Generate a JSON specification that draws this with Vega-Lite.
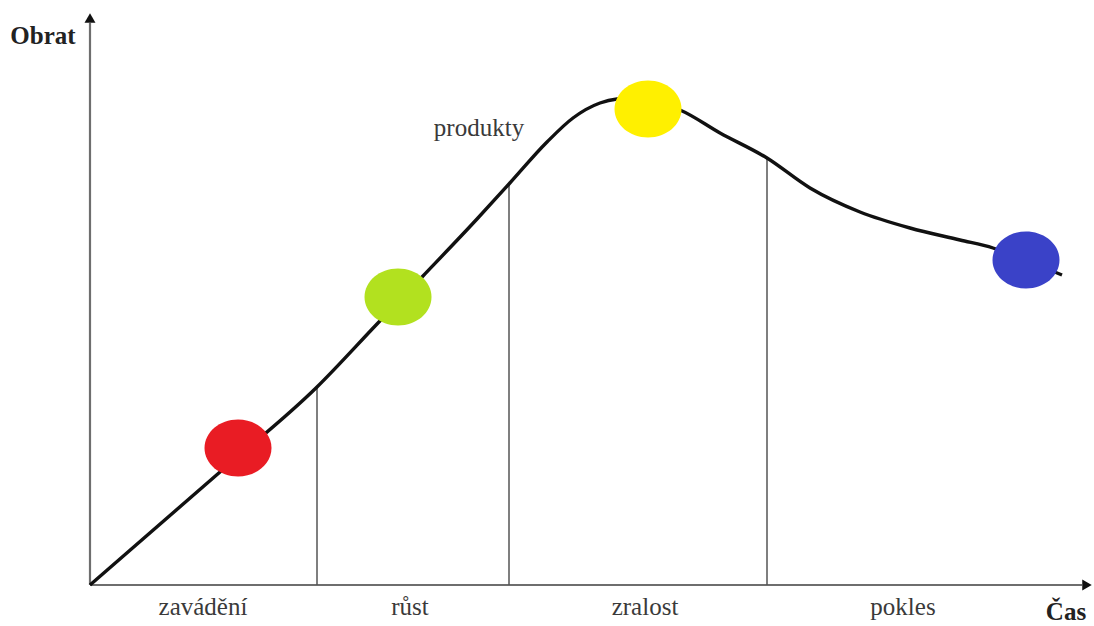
{
  "$schema": "https://vega.github.io/schema/vega-lite/v6.json",
  "width": 1094,
  "height": 626,
  "autosize": "none",
  "padding": 0,
  "background": "white",
  "config": {"view": {"stroke": null}},
  "datasets": {
    "curve": [
      {"t": 0, "v": 0}, {"t": 130, "v": 113}, {"t": 227, "v": 198}, {"t": 287, "v": 261},
      {"t": 333, "v": 309}, {"t": 387, "v": 366}, {"t": 419, "v": 401}, {"t": 457, "v": 443},
      {"t": 483, "v": 467}, {"t": 510, "v": 482}, {"t": 527, "v": 486}, {"t": 545, "v": 487},
      {"t": 565, "v": 483}, {"t": 590, "v": 475}, {"t": 630, "v": 452}, {"t": 677, "v": 427},
      {"t": 720, "v": 397}, {"t": 770, "v": 373}, {"t": 820, "v": 357}, {"t": 870, "v": 345},
      {"t": 903, "v": 337}, {"t": 935, "v": 325}, {"t": 972, "v": 310}
    ],
    "stages": [
      {"stage": "zavádění", "t": 148, "v": 137, "color": "red"},
      {"stage": "růst", "t": 308, "v": 288, "color": "green"},
      {"stage": "zralost", "t": 558, "v": 476, "color": "yellow"},
      {"stage": "pokles", "t": 936, "v": 325, "color": "blue"}
    ],
    "dividers": [
      {"t": 227, "v0": 0, "v1": 198},
      {"t": 419, "v0": 0, "v1": 401},
      {"t": 677, "v0": 0, "v1": 427}
    ],
    "phaseLabels": [
      {"label": "zavádění", "t": 113, "v": -22},
      {"label": "růst", "t": 320, "v": -22},
      {"label": "zralost", "t": 555, "v": -22},
      {"label": "pokles", "t": 813, "v": -22}
    ],
    "axes": [
      {"axis": "x", "t0": 0, "t1": 992, "v0": 0, "v1": 0},
      {"axis": "y", "t0": 0, "t1": 0, "v0": 0, "v1": 562}
    ],
    "arrows": [
      {"axis": "x", "t": 997, "v": 0, "dir": "right"},
      {"axis": "y", "t": 0, "v": 567, "dir": "up"}
    ],
    "titles": [
      {"label": "Obrat", "t": -47, "v": 549},
      {"label": "Čas", "t": 976, "v": -27}
    ],
    "notes": [
      {"label": "produkty", "t": 389, "v": 457}
    ]
  },
  "layer": [
    {
      "data": {"name": "axes"},
      "mark": {"type": "rule", "color": "#6e6e6e", "strokeWidth": 2.2},
      "encoding": {
        "x": {"field": "t0", "type": "quantitative", "scale": {"domain": [-90, 1004], "nice": false, "zero": false}, "axis": null},
        "x2": {"field": "t1"},
        "y": {"field": "v0", "type": "quantitative", "scale": {"domain": [-41, 585], "nice": false, "zero": false}, "axis": null},
        "y2": {"field": "v1"}
      }
    },
    {
      "data": {"name": "arrows"},
      "transform": [{"filter": "datum.dir === 'right'"}],
      "mark": {"type": "point", "shape": "triangle-right", "filled": true, "color": "#111111", "size": 120, "opacity": 1},
      "encoding": {
        "x": {"field": "t", "type": "quantitative"},
        "y": {"field": "v", "type": "quantitative"}
      }
    },
    {
      "data": {"name": "arrows"},
      "transform": [{"filter": "datum.dir === 'up'"}],
      "mark": {"type": "point", "shape": "triangle-up", "filled": true, "color": "#111111", "size": 120, "opacity": 1},
      "encoding": {
        "x": {"field": "t", "type": "quantitative"},
        "y": {"field": "v", "type": "quantitative"}
      }
    },
    {
      "data": {"name": "dividers"},
      "mark": {"type": "rule", "color": "#555555", "strokeWidth": 1.5},
      "encoding": {
        "x": {"field": "t", "type": "quantitative"},
        "y": {"field": "v0", "type": "quantitative"},
        "y2": {"field": "v1"}
      }
    },
    {
      "data": {"name": "curve"},
      "mark": {"type": "line", "color": "#111111", "strokeWidth": 3.4, "interpolate": "monotone"},
      "encoding": {
        "x": {"field": "t", "type": "quantitative"},
        "y": {"field": "v", "type": "quantitative"}
      }
    },
    {
      "data": {"name": "stages"},
      "mark": {"type": "point", "filled": true, "opacity": 1, "strokeWidth": 0,
               "shape": "M -1 0 A 1 0.85 0 1 0 1 0 A 1 0.85 0 1 0 -1 0 Z", "size": 4489},
      "encoding": {
        "x": {"field": "t", "type": "quantitative"},
        "y": {"field": "v", "type": "quantitative"},
        "color": {"field": "color", "type": "nominal", "legend": null,
                  "scale": {"domain": ["red", "green", "yellow", "blue"], "range": ["#e91c24", "#b2e11f", "#fff000", "#3a42c8"]}}
      }
    },
    {
      "data": {"name": "phaseLabels"},
      "mark": {"type": "text", "font": "Liberation Serif", "fontSize": 25, "color": "#3a3a3a", "baseline": "middle", "align": "center"},
      "encoding": {
        "x": {"field": "t", "type": "quantitative"},
        "y": {"field": "v", "type": "quantitative"},
        "text": {"field": "label"}
      }
    },
    {
      "data": {"name": "notes"},
      "mark": {"type": "text", "font": "Liberation Serif", "fontSize": 25, "color": "#3a3a3a", "baseline": "middle", "align": "center"},
      "encoding": {
        "x": {"field": "t", "type": "quantitative"},
        "y": {"field": "v", "type": "quantitative"},
        "text": {"field": "label"}
      }
    },
    {
      "data": {"name": "titles"},
      "mark": {"type": "text", "font": "Liberation Serif", "fontSize": 25, "fontWeight": "bold", "color": "#222222", "baseline": "middle", "align": "center"},
      "encoding": {
        "x": {"field": "t", "type": "quantitative"},
        "y": {"field": "v", "type": "quantitative"},
        "text": {"field": "label"}
      }
    }
  ]
}
